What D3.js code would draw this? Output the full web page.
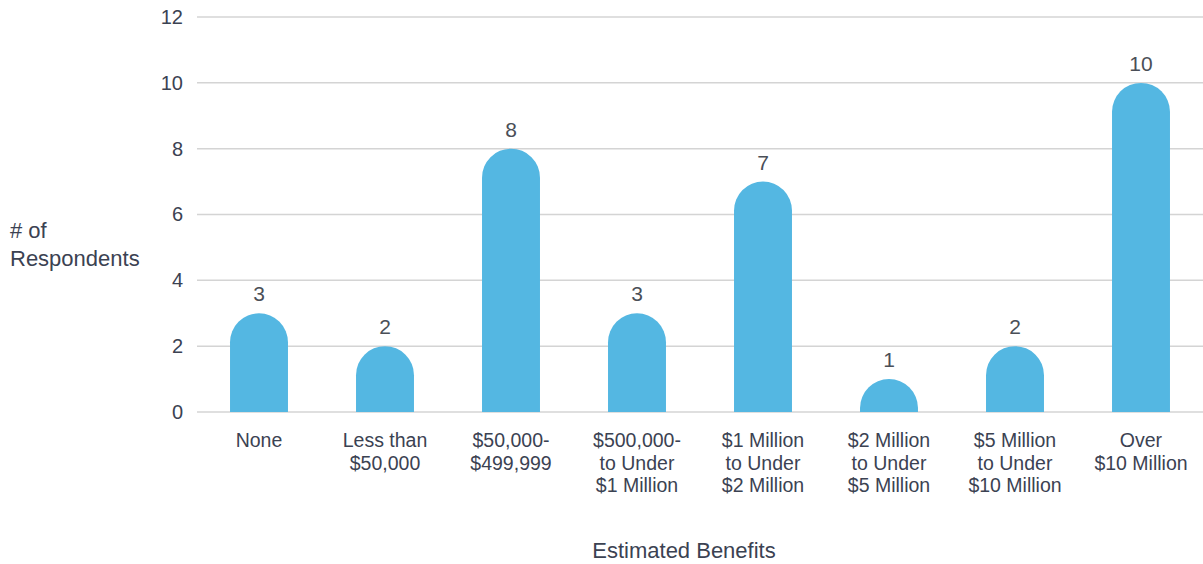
<!DOCTYPE html>
<html>
<head>
<meta charset="utf-8">
<script src="https://cdn.jsdelivr.net/npm/d3@7"></script>
<style>
  html, body { margin: 0; padding: 0; background: #fff; }
  svg { display: block; font-family: "Liberation Sans", Arial, sans-serif; }
</style>
</head>
<body>
<svg id="chart" width="1203" height="564"></svg>
<script>
const categories = [
  ["None"],
  ["Less than", "$50,000"],
  ["$50,000-", "$499,999"],
  ["$500,000-", "to Under", "$1 Million"],
  ["$1 Million", "to Under", "$2 Million"],
  ["$2 Million", "to Under", "$5 Million"],
  ["$5 Million", "to Under", "$10 Million"],
  ["Over", "$10 Million"]
];
const respondents = [3, 2, 8, 3, 7, 1, 2, 10];
const yTicks = [0, 2, 4, 6, 8, 10, 12];
const yTitle = ["# of", "Respondents"];
const xTitle = "Estimated Benefits";

const svg = d3.select("#chart");
const textColor = "#3b4252";
const barColor = "#54b7e2";

const keys = categories.map((c, i) => i);
const x = d3.scaleBand().domain(keys).range([196, 1204]).paddingInner(0.54).paddingOuter(0.27);
const y = d3.scaleLinear().domain([0, 12]).range([412, 17]);

// gridlines
svg.append("g").selectAll("line").data(yTicks).join("line")
  .attr("x1", 197).attr("x2", 1203)
  .attr("y1", d => y(d)).attr("y2", d => y(d))
  .attr("stroke", "#d4d4d4").attr("stroke-width", 1.5);

// y tick labels via axis
const yAxis = svg.append("g").attr("transform", "translate(197,0)")
  .call(d3.axisLeft(y).tickValues(yTicks).tickSize(0).tickPadding(14).tickFormat(d3.format("d")));
yAxis.select(".domain").remove();
yAxis.selectAll("text").attr("fill", textColor).style("font-size", "20px")
  .style("font-family", "'Liberation Sans', Arial, sans-serif");

// bars with rounded tops
const bw = x.bandwidth();
const r = bw / 2;
svg.append("defs").append("clipPath").attr("id", "plotclip")
  .append("rect").attr("x", 0).attr("y", 0).attr("width", 1203).attr("height", y(0));
svg.append("g").attr("clip-path", "url(#plotclip)").selectAll("path").data(respondents).join("path")
  .attr("fill", barColor)
  .attr("d", (d, i) => {
    const x0 = x(i), top = y(d), base = y(0);
    const yc = top + r;
    const bottom = Math.max(base, yc);
    return `M${x0},${bottom} L${x0},${yc} A${r},${r} 0 0 1 ${x0 + bw},${yc} L${x0 + bw},${bottom} Z`;
  });

// value labels
svg.append("g").selectAll("text").data(respondents).join("text")
  .attr("x", (d, i) => x(i) + bw / 2)
  .attr("y", d => y(d) - 12)
  .attr("text-anchor", "middle")
  .attr("fill", "#4a4f57")
  .style("font-size", "21px")
  .text(d => d);

// category labels
const cat = svg.append("g").selectAll("text").data(categories).join("text")
  .attr("x", (d, i) => x(i) + bw / 2)
  .attr("y", 447)
  .attr("text-anchor", "middle")
  .attr("fill", textColor)
  .style("font-size", "19.5px");
cat.selectAll("tspan").data(d => d).join("tspan")
  .attr("x", function() { return d3.select(this.parentNode).attr("x"); })
  .attr("dy", (d, j) => j === 0 ? 0 : 22.5)
  .text(d => d);

// y title
svg.append("text").attr("x", 10).attr("y", 238).attr("fill", textColor).style("font-size", "22px")
  .selectAll("tspan").data(yTitle).join("tspan")
  .attr("x", 10).attr("dy", (d, j) => j === 0 ? 0 : 28).text(d => d);

// x title
svg.append("text").attr("x", 684).attr("y", 558).attr("text-anchor", "middle")
  .attr("fill", textColor).style("font-size", "22px").text(xTitle);
</script>
</body>
</html>
